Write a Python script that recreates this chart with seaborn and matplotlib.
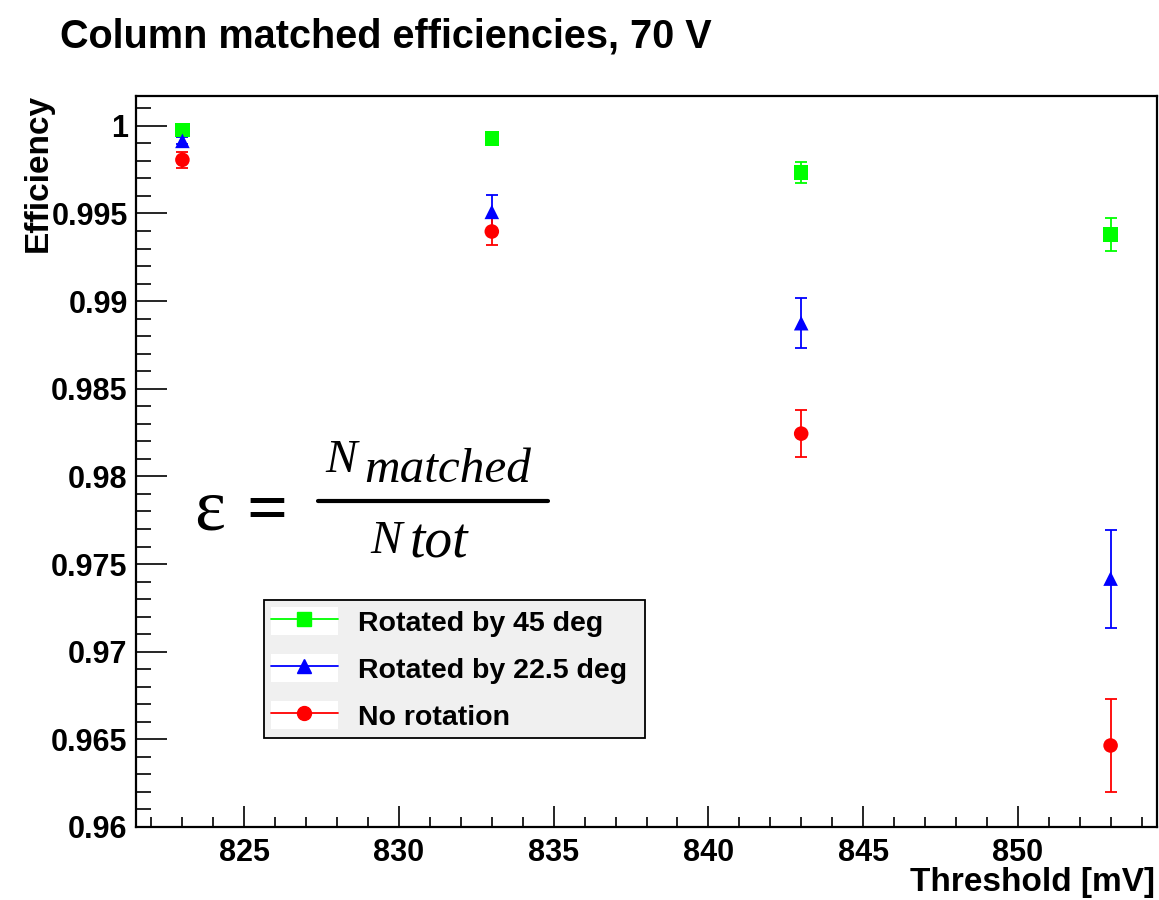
import numpy as np
import matplotlib
matplotlib.use("Agg")
import matplotlib.pyplot as plt
import seaborn as sns
import pandas as pd
from matplotlib.lines import Line2D
from matplotlib.patches import Rectangle
from matplotlib.legend_handler import HandlerTuple
from matplotlib.ticker import MultipleLocator

threshold = [823, 833, 843, 853]
eff_45 = [0.99975, 0.99928, 0.99732, 0.99380]
err_45 = [0.0001, 0.0002, 0.0006, 0.00095]
eff_225 = [0.99914, 0.99509, 0.98874, 0.97417]
err_225 = [0.0002, 0.00095, 0.00143, 0.0028]
eff_0 = [0.99806, 0.99397, 0.98244, 0.96465]
err_0 = [0.00047, 0.00077, 0.00136, 0.00268]

labels = ["Rotated by 45 deg", "Rotated by 22.5 deg", "No rotation"]
colors = ["#00ff00", "#0000ff", "#ff0000"]
markers = ["s", "^", "o"]

yticks = [0.96, 0.965, 0.97, 0.975, 0.98, 0.985, 0.99, 0.995, 1.0]
yticklabels = ["0.96", "0.965", "0.97", "0.975", "0.98", "0.985", "0.99", "0.995", "1"]
xticks = [825, 830, 835, 840, 845, 850]

rows = []
for lab, effs, errs in zip(labels, [eff_45, eff_225, eff_0], [err_45, err_225, err_0]):
    for t, e, d in zip(threshold, effs, errs):
        rows.append({"threshold": t, "eff": e, "err": d, "series": lab})
df = pd.DataFrame(rows)

sns.set_style("ticks")
plt.rcParams["font.family"] = ["Liberation Sans", "DejaVu Sans"]
plt.rcParams["text.color"] = "black"
plt.rcParams["axes.labelcolor"] = "black"
plt.rcParams["xtick.color"] = "black"
plt.rcParams["ytick.color"] = "black"

W, H = 1159, 900
fig = plt.figure(figsize=(W / 100, H / 100), dpi=100)
ax = fig.add_axes([136 / W, 1 - 827 / H, 1021 / W, 731 / H])

# error bars first, markers on top
for lab, c in zip(labels, colors):
    sub = df[df.series == lab]
    ax.errorbar(sub.threshold, sub.eff, yerr=sub.err, fmt="none", ecolor=c,
                elinewidth=1.3, capsize=4, capthick=1.3, zorder=2)

sns.scatterplot(data=df, x="threshold", y="eff", hue="series", style="series",
                palette=dict(zip(labels, colors)), markers=dict(zip(labels, markers)),
                s=110, edgecolor="none", legend=False, ax=ax, zorder=3)

ax.set_xlim(821.5, 854.5)
ax.set_ylim(0.96, 1.0017)
ax.set_xticks(xticks)
ax.set_xticklabels([str(x) for x in xticks])
ax.set_yticks(yticks)
ax.set_yticklabels(yticklabels)
ax.xaxis.set_minor_locator(MultipleLocator(1))
ax.yaxis.set_minor_locator(MultipleLocator(0.001))
ax.set_xlabel("")
ax.set_ylabel("")

ax.tick_params(axis="both", which="both", direction="in", top=False, right=False,
               width=1.2, colors="black")
ax.tick_params(axis="y", which="major", length=22, pad=6)
ax.tick_params(axis="y", which="minor", length=11)
ax.tick_params(axis="x", which="major", length=15, pad=8)
ax.tick_params(axis="x", which="minor", length=7)
for lbl in ax.get_xticklabels() + ax.get_yticklabels():
    lbl.set_fontweight("bold")
    lbl.set_fontsize(22)
for sp in ax.spines.values():
    sp.set_visible(True)
    sp.set_linewidth(1.6)
    sp.set_color("black")

fig.text(60 / W, 1 - 37 / H, "Column matched efficiencies, 70 V",
         fontsize=28.5, fontweight="bold", ha="left", va="center")
fig.text(38 / W, 1 - 94 / H, "Efficiency", rotation=90, fontsize=24,
         fontweight="bold", ha="center", va="top")
fig.text(1155 / W, 1 - 882 / H, "Threshold [mV]", fontsize=24,
         fontweight="bold", ha="right", va="center")

# efficiency formula, set piece by piece like the ROOT TLatex
serif = ["Liberation Serif", "DejaVu Serif"]
fig.text(194 / W, 1 - 530 / H, "\u03b5", family=serif, fontsize=53,
         ha="left", va="baseline")
fig.text(246 / W, 1 - 531 / H, "=", family=serif, fontsize=52, fontweight="bold",
         ha="left", va="baseline")
fig.add_artist(Line2D([318 / W, 548 / W], [1 - 501.5 / H, 1 - 501.5 / H],
                      color="black", lw=3, transform=fig.transFigure))
fig.text(325 / W, 1 - 472 / H, "N", family=serif, style="italic", fontsize=34,
         ha="left", va="baseline")
fig.text(364 / W, 1 - 482 / H, "matched", family=serif, style="italic", fontsize=35.5,
         ha="left", va="baseline")
fig.text(370 / W, 1 - 553 / H, "N", family=serif, style="italic", fontsize=34,
         ha="left", va="baseline")
fig.text(410 / W, 1 - 557 / H, "tot", family=serif, style="italic", fontsize=40,
         ha="left", va="baseline")

handles = [(Rectangle((0, 0), 1, 1, facecolor="white", edgecolor="none"),
            Line2D([0], [0], color=c, marker=m, markersize=10, lw=1.3))
           for c, m in zip(colors, markers)]
leg = ax.legend(handles, labels, loc="lower left",
                bbox_to_anchor=(0.125, 0.122, 0.374, 0.19), mode="expand",
                handler_map={tuple: HandlerTuple(ndivide=1, pad=0)},
                borderaxespad=0, frameon=True, fancybox=False, framealpha=1,
                facecolor="#f0f0f0", edgecolor="black",
                prop={"weight": "bold", "size": 20.5},
                handlelength=2.35, handleheight=1.15, handletextpad=0.72,
                labelspacing=0.6, borderpad=0.25)
leg.get_frame().set_linewidth(1.3)

fig.savefig("out.png", dpi=100)
